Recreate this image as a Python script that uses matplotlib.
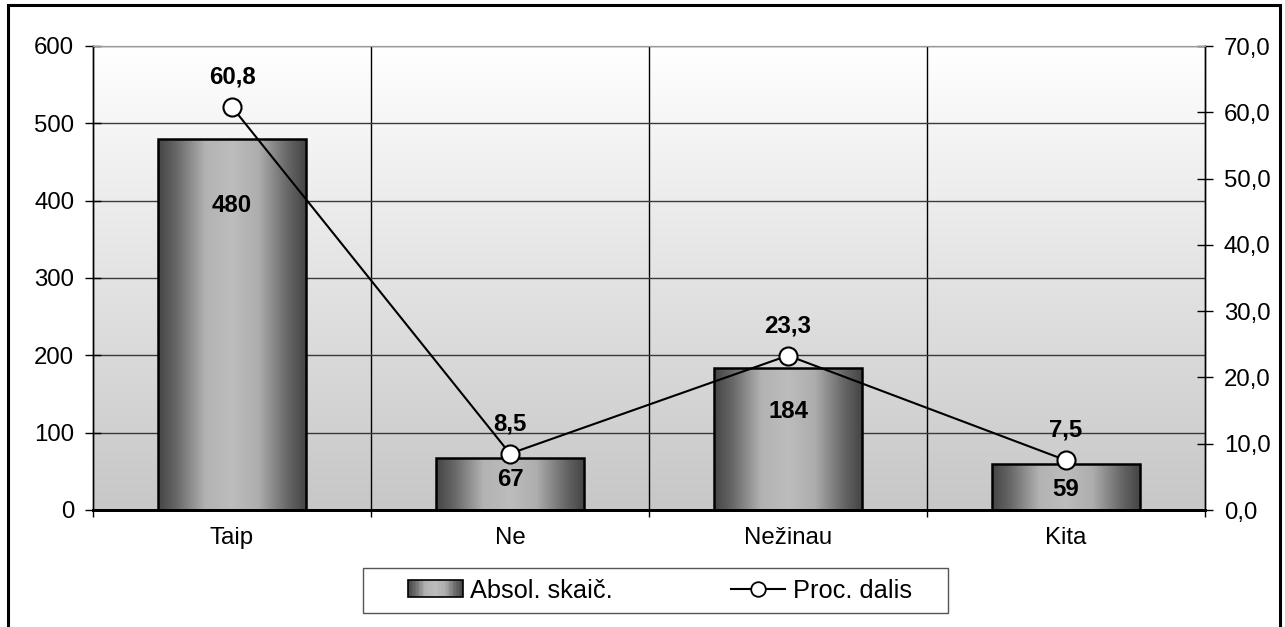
import numpy as np
import matplotlib
matplotlib.use("Agg")
import matplotlib.pyplot as plt
from matplotlib.patches import Rectangle
from matplotlib.lines import Line2D
from matplotlib.legend_handler import HandlerBase
from matplotlib.ticker import FuncFormatter

# ---- data ----
categories = ["Taip", "Ne", "Nežinau", "Kita"]
counts = [480, 67, 184, 59]
percents = [60.8, 8.5, 23.3, 7.5]
count_ticks = [0, 100, 200, 300, 400, 500, 600]
percent_ticks = [0, 10, 20, 30, 40, 50, 60, 70]
series_names = ["Absol. skaič.", "Proc. dalis"]

# ---- style ----
count_label_y = [394, 39, 127, 27]   # where the bar labels sit (left-axis units)
FONT = "Liberation Sans"
plt.rcParams["font.family"] = [FONT, "DejaVu Sans"]
FS = 17.3
LFS = 18.3

prof_t = [0.0, 0.12, 0.32, 0.5, 0.68, 0.88, 1.0]
prof_v = [0.27, 0.40, 0.70, 0.74, 0.68, 0.40, 0.27]
def profile(t):
    return np.interp(t, prof_t, prof_v)

W, H = 1285, 627
fig = plt.figure(figsize=(W / 100, H / 100), dpi=100)
ax = fig.add_axes([93 / W, 1 - 510 / H, (1205 - 93) / W, (510 - 46) / H])
ax2 = ax.twinx()

x = np.arange(len(categories))

# background gradient
bg = np.linspace(0.78, 1.0, 256).reshape(-1, 1)
ax.imshow(np.dstack([bg, bg, bg]), extent=(0, 1, 0, 1), transform=ax.transAxes,
          aspect="auto", origin="lower", zorder=0, interpolation="bilinear")

# bars with horizontal gradient
tt = np.linspace(0, 1, 256)
gimg = profile(tt).reshape(1, -1)
gimg = np.dstack([gimg, gimg, gimg])
bars = ax.bar(x, counts, width=0.53, facecolor="none", edgecolor="black",
              linewidth=1.8, zorder=3)
for b in bars:
    im = ax.imshow(gimg, extent=(b.get_x(), b.get_x() + b.get_width(), 0, b.get_height()),
                   aspect="auto", zorder=2, interpolation="bilinear")
    im.set_clip_path(b)
ax.set_xlim(-0.5, len(categories) - 0.5)
ax.set_ylim(count_ticks[0], count_ticks[-1])
ax2.set_ylim(percent_ticks[0], percent_ticks[-1])
ax.set_aspect("auto")

# gridlines and ticks
ax.set_yticks(count_ticks)
ax.yaxis.grid(True, color="#3a3a3a", linewidth=1.0, zorder=0.5)
bounds = np.arange(-0.5, len(categories), 1.0)
ax.set_xticks(bounds)
ax.set_xticklabels([])
ax.set_xticks(x, minor=True)
ax.set_xticklabels(categories, minor=True, fontsize=FS)
for bx in bounds[1:-1]:
    ax.axvline(bx, color="black", linewidth=1.0, zorder=0.6)
ax.tick_params(axis="x", which="major", direction="out", length=5, width=1, color="black")
ax.tick_params(axis="x", which="minor", length=0, pad=12)
ax.tick_params(axis="y", direction="inout", length=11, width=1, labelsize=FS, pad=8)
ax2.set_yticks(percent_ticks)
ax2.yaxis.set_major_formatter(FuncFormatter(lambda v, p: f"{v:.1f}".replace(".", ",")))
ax2.tick_params(axis="y", direction="inout", length=11, width=1, labelsize=FS, pad=8)

for a in (ax, ax2):
    a.spines["top"].set_color("#9a9a9a")
    a.spines["left"].set_color("black")
    a.spines["right"].set_color("black")
    a.spines["bottom"].set_color("black")
    a.spines["bottom"].set_linewidth(2)
    a.spines["left"].set_linewidth(1)
    a.spines["right"].set_linewidth(1)

# bar labels
for xi, v, ly in zip(x, counts, count_label_y):
    ax.text(xi, ly, str(v), ha="center", va="center", fontsize=FS,
            fontweight="bold", zorder=5)

# line
ax2.plot(x, percents, color="black", linewidth=1.5, marker="o", markersize=13,
         markerfacecolor="white", markeredgecolor="black", markeredgewidth=1.5, zorder=4)
for xi, v in zip(x, percents):
    ax2.annotate(f"{v:.1f}".replace(".", ","), (xi, v), xytext=(0, 30),
                 textcoords="offset pixels", ha="center", va="center",
                 fontsize=FS, fontweight="bold")

# legend
class GradHandler(HandlerBase):
    def create_artists(self, legend, orig_handle, xdescent, ydescent, width, height, fontsize, trans):
        arts = []
        n = 40
        for i in range(n):
            g = float(profile((i + 0.5) / n))
            arts.append(Rectangle((-xdescent + width * i / n, -ydescent), width / n + 0.4, height,
                                  facecolor=(g, g, g), edgecolor="none", transform=trans))
        arts.append(Rectangle((-xdescent, -ydescent), width, height, fill=False,
                              edgecolor="black", linewidth=1.2, transform=trans))
        return arts

bar_handle = Rectangle((0, 0), 1, 1)
line_handle = Line2D([], [], color="black", linewidth=1.5, marker="o", markersize=10.5,
                     markerfacecolor="white", markeredgecolor="black", markeredgewidth=1.3)
leg_y = 1 - 590.5 / H
leg = fig.legend([bar_handle, line_handle], series_names,
                 handler_map={Rectangle: GradHandler()},
                 loc="center left", bbox_to_anchor=(408 / W, leg_y, (912 - 408) / W, 0),
                 ncol=2, mode="expand", fontsize=LFS, frameon=False,
                 handlelength=2.15, handleheight=0.6, handletextpad=0.3,
                 borderpad=0.0, borderaxespad=0.0)
fig.add_artist(Rectangle((363 / W, 1 - 613 / H), (948 - 363) / W, 45 / H,
                         facecolor="white", edgecolor="#555555", linewidth=1.0,
                         transform=fig.transFigure, zorder=-1))

# outer frame
fig.add_artist(Rectangle((8 / W, -0.05), (1280 - 8) / W, 1.05 - 5 / H, fill=False,
                         edgecolor="black", linewidth=2.2, transform=fig.transFigure))

fig.savefig("out.png", dpi=100)
